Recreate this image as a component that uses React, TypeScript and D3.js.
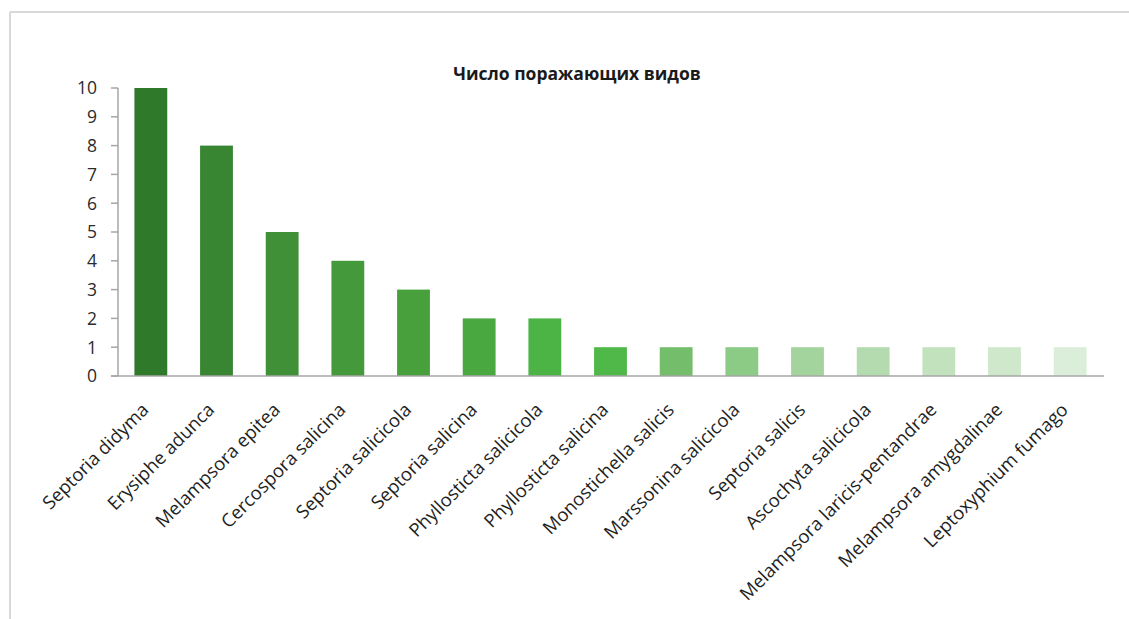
import * as d3 from "d3";

const species = [
  "Septoria didyma",
  "Erysiphe adunca",
  "Melampsora epitea",
  "Cercospora salicina",
  "Septoria salicicola",
  "Septoria salicina",
  "Phyllosticta salicicola",
  "Phyllosticta salicina",
  "Monostichella salicis",
  "Marssonina salicicola",
  "Septoria salicis",
  "Ascochyta salicicola",
  "Melampsora laricis-pentandrae",
  "Melampsora amygdalinae",
  "Leptoxyphium fumago",
];

const hostCounts = [10, 8, 5, 4, 3, 2, 2, 1, 1, 1, 1, 1, 1, 1, 1];

const barColors = [
  "#2f792a",
  "#388532",
  "#3f9036",
  "#44993a",
  "#48a03d",
  "#4aa840",
  "#4cb445",
  "#4fb848",
  "#73bd6b",
  "#8ccb86",
  "#a3d49d",
  "#b4dab0",
  "#c2e2be",
  "#cfe8cc",
  "#dbeeda",
];

const yTicks = [0, 1, 2, 3, 4, 5, 6, 7, 8, 9, 10];

const W = 1129;
const H = 619;
const font = "'Open Sans', 'Noto Sans', sans-serif";

export default function App() {
  const x = d3
    .scaleBand<string>()
    .domain(species)
    .range([118, 1103])
    .paddingInner(0.5)
    .paddingOuter(0.25);

  const y = d3.scaleLinear().domain([0, 10]).range([376, 88]);

  return (
    <svg
      width={W}
      height={H}
      style={{ position: "absolute", left: 0, top: 0, background: "#fff" }}
    >
      {/* frame */}
      <line x1={10} y1={12} x2={W} y2={12} stroke="#d9d9d9" strokeWidth={2} />
      <line x1={10} y1={12} x2={10} y2={H} stroke="#d9d9d9" strokeWidth={2} />

      <text
        x={577}
        y={80}
        textAnchor="middle"
        fontFamily={font}
        fontWeight={700}
        fontSize={17.5}
        fill="#1a1a1a"
      >
        Число поражающих видов
      </text>

      {/* bars */}
      {species.map((s, i) => (
        <rect
          key={s}
          x={x(s)}
          y={y(hostCounts[i])}
          width={x.bandwidth()}
          height={y(0) - y(hostCounts[i])}
          fill={barColors[i]}
        />
      ))}

      {/* y axis */}
      <line x1={118} y1={y(10)} x2={118} y2={y(0)} stroke="#a6a6a6" strokeWidth={1.5} />
      {yTicks.map((t) => (
        <g key={t}>
          <line x1={111} y1={y(t)} x2={118} y2={y(t)} stroke="#a6a6a6" strokeWidth={1.5} />
          <text
            x={97}
            y={y(t)}
            dy="0.36em"
            textAnchor="end"
            fontFamily={font}
            fontSize={17.5}
            fill="#2b2b2b"
          >
            {t}
          </text>
        </g>
      ))}

      {/* x axis */}
      <line x1={111} y1={y(0)} x2={1104} y2={y(0)} stroke="#a6a6a6" strokeWidth={1.5} />
      {species.map((s) => {
        const cx = (x(s) ?? 0) + x.bandwidth() / 2;
        return (
          <text
            key={s}
            transform={`translate(${cx - 1},${411}) rotate(-45)`}
            textAnchor="end"
            fontFamily={font}
            fontSize={18.5}
            fill="#1f1f1f"
          >
            {s}
          </text>
        );
      })}
    </svg>
  );
}
